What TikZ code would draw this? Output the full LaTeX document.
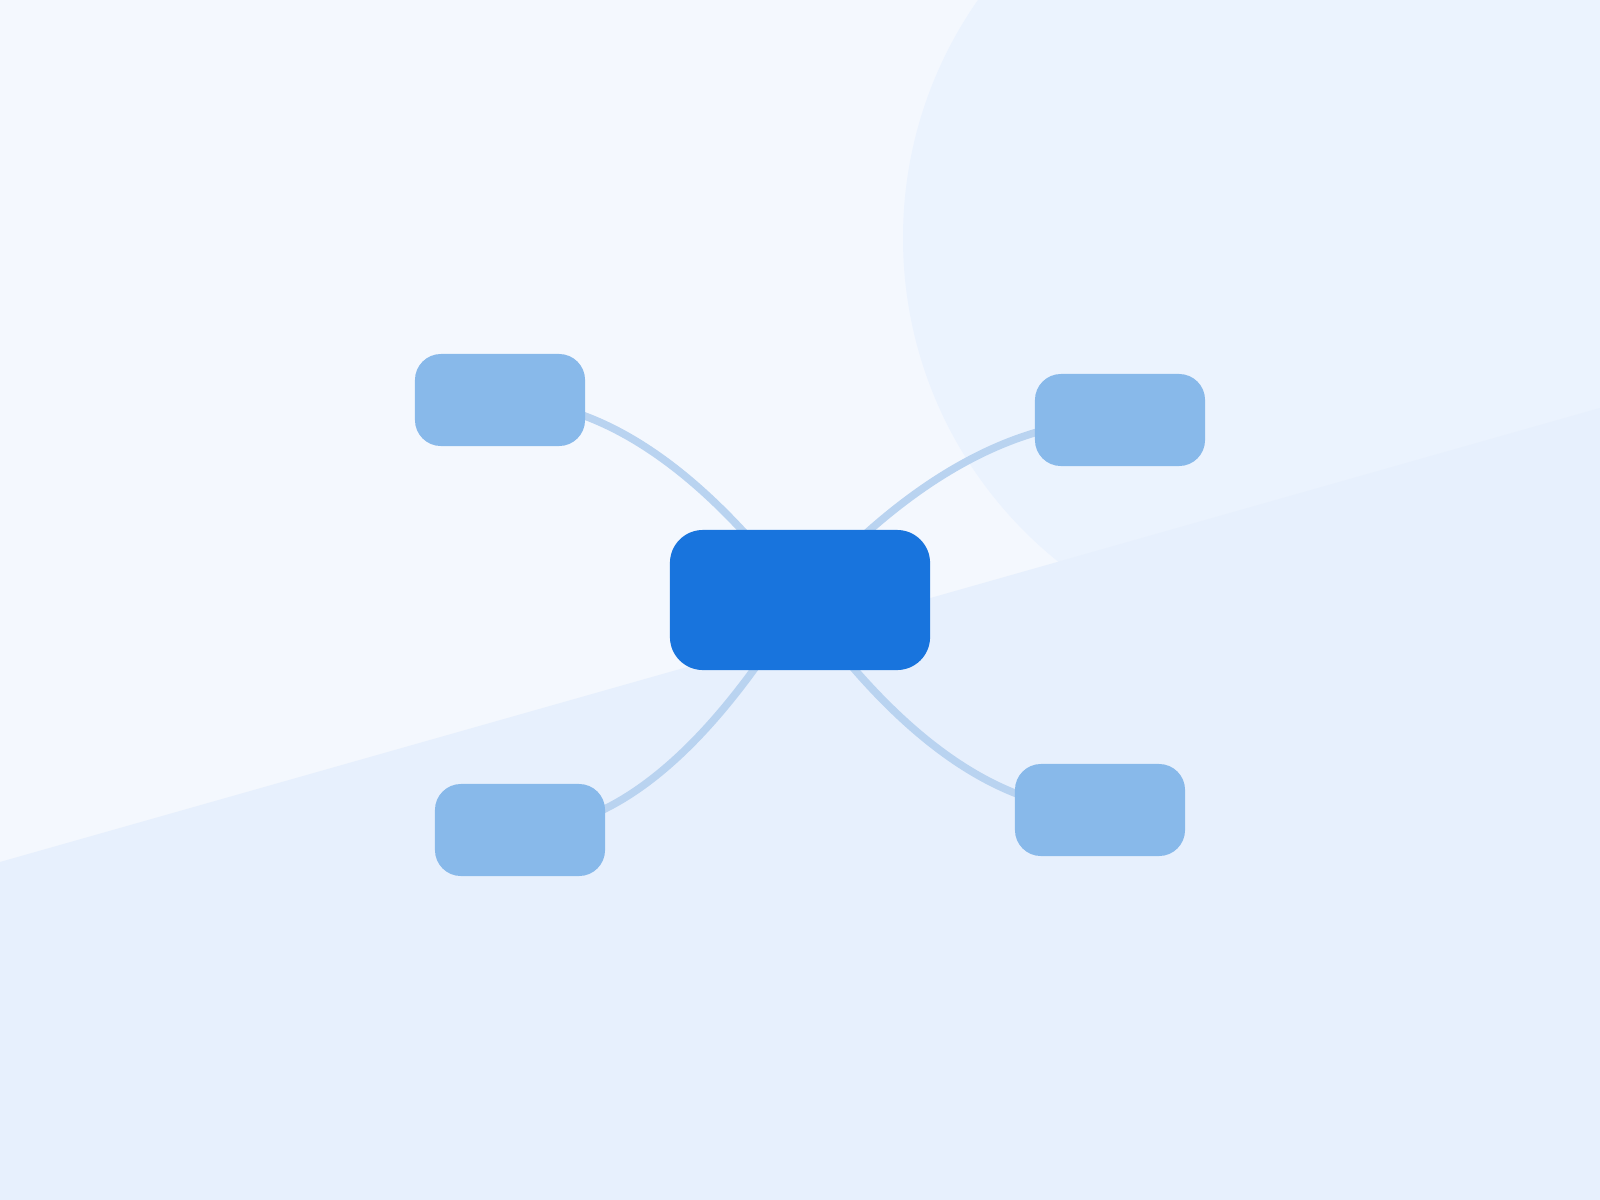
\documentclass[tikz,border=0pt]{standalone}
\usetikzlibrary{calc}
\pgfdeclarelayer{bg}
\pgfdeclarelayer{edges}
\pgfsetlayers{bg,edges,main}
\definecolor{bgtop}{HTML}{F4F8FE}
\definecolor{bgcircle}{HTML}{EBF3FE}
\definecolor{bglow}{HTML}{E7F0FD}
\definecolor{hubblue}{HTML}{1874DD}
\definecolor{leafblue}{HTML}{88B9EA}
\definecolor{linkblue}{HTML}{B9D3F0}
\newcommand\mmlink[2]{%
  \path ($(#1)!1/3!(#2)$) coordinate (#1-p1) ($(#1)!2/3!(#2)$) coordinate (#1-p2);
  \draw[link] (#1.center) .. controls (#1-p1 |- #1.center) and (#1-p2 |- #1-p1) .. (#2.center);}
\begin{document}
\begin{tikzpicture}[x=0.01cm,y=-0.01cm,
  hub/.style={draw=none,fill=hubblue,minimum width=2.6cm,minimum height=1.4cm,rounded corners=0.33cm,inner sep=0pt},
  leaf/.style={draw=none,fill=leafblue,minimum width=1.7cm,minimum height=0.92cm,rounded corners=0.26cm,inner sep=0pt},
  link/.style={draw=linkblue,line width=0.075cm}]
\useasboundingbox (0,0) rectangle (1600,1200);
\clip (0,0) rectangle (1600,1200);
\begin{pgfonlayer}{bg}
\fill[bgtop] (0,0) rectangle (1600,1200);
\fill[bgcircle] (1318,238) circle[radius=415];
\fill[bglow] (0,862) -- (1600,408) -- (1600,1200) -- (0,1200) -- cycle;
\end{pgfonlayer}
\node[hub] (c) at (800,600) {};
\node[leaf] (tl) at (500,400) {};
\node[leaf] (tr) at (1120,420) {};
\node[leaf] (bl) at (520,830) {};
\node[leaf] (br) at (1100,810) {};
\begin{pgfonlayer}{edges}
\mmlink{tl}{c}
\mmlink{tr}{c}
\mmlink{bl}{c}
\mmlink{br}{c}
\end{pgfonlayer}
\end{tikzpicture}
\end{document}
